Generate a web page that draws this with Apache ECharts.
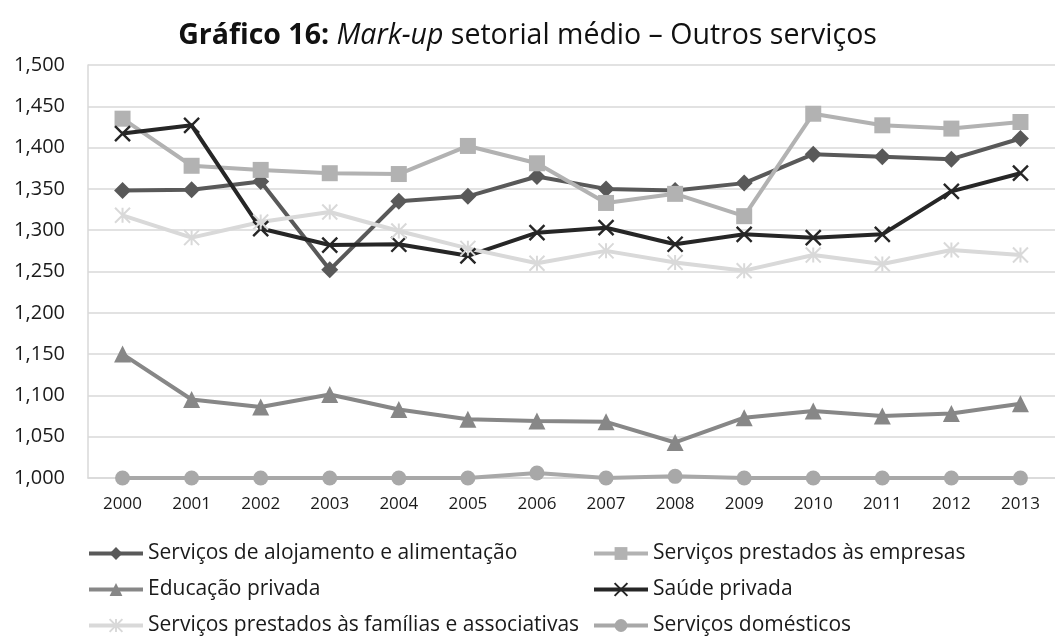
<!DOCTYPE html>
<html>
<head>
<meta charset="utf-8">
<script src="https://cdn.jsdelivr.net/npm/echarts@6/dist/echarts.min.js"></script>
<style>
  html, body { margin: 0; padding: 0; background: #fff; }
  #chart { width: 1055px; height: 639px; }
</style>
</head>
<body>
<div id="chart"></div>
<script>
// Years on the horizontal axis
var years = ['2000','2001','2002','2003','2004','2005','2006','2007','2008','2009','2010','2011','2012','2013'];

// Average sector mark-up, one array per service sector
var alojamento = [1.348, 1.349, 1.359, 1.252, 1.335, 1.341, 1.365, 1.350, 1.348, 1.357, 1.392, 1.389, 1.386, 1.411];
var empresas   = [1.435, 1.378, 1.373, 1.369, 1.368, 1.402, 1.381, 1.333, 1.344, 1.317, 1.441, 1.427, 1.423, 1.431];
var educacao   = [1.150, 1.095, 1.086, 1.101, 1.083, 1.071, 1.069, 1.068, 1.043, 1.073, 1.081, 1.075, 1.078, 1.090];
var saude      = [1.417, 1.427, 1.302, 1.282, 1.283, 1.269, 1.297, 1.303, 1.283, 1.295, 1.291, 1.295, 1.347, 1.369];
var familias   = [1.318, 1.291, 1.310, 1.322, 1.299, 1.278, 1.260, 1.275, 1.261, 1.251, 1.270, 1.259, 1.276, 1.270];
var domesticos = [1.000, 1.000, 1.000, 1.000, 1.000, 1.000, 1.006, 1.000, 1.002, 1.000, 1.000, 1.000, 1.000, 1.000];

// Series names
var names = [
  'Serviços de alojamento e alimentação',
  'Serviços prestados às empresas',
  'Educação privada',
  'Saúde privada',
  'Serviços prestados às famílias e associativas',
  'Serviços domésticos'
];

var FONT = '"Open Sans", "Noto Sans", sans-serif';
var CROSS = 'path://M0,0L10,10M10,0L0,10';
var STAR = 'path://M5,0L5,10M0,0L10,10M10,0L0,10';

function lineSeries(name, data, color, symbol, size, strokeWidth) {
  var s = {
    name: name,
    type: 'line',
    data: data,
    symbol: symbol,
    symbolSize: size,
    showAllSymbol: true,
    lineStyle: { color: color, width: 4 },
    itemStyle: { color: color },
    emphasis: { disabled: true },
    animation: false
  };
  if (strokeWidth) {
    // open markers drawn as strokes only
    s.itemStyle = { color: 'rgba(0,0,0,0)', borderColor: color, borderWidth: strokeWidth };
  }
  return s;
}

var chart = echarts.init(document.getElementById('chart'), null, { renderer: 'canvas' });

var legendText = { fontFamily: FONT, fontSize: 21, color: '#1a1a1a' };
var legendCommon = {
  orient: 'vertical',
  top: 543,
  padding: 0,
  itemWidth: 54,
  itemHeight: 16,
  itemGap: 15,
  selectedMode: false,
  textStyle: legendText,
  lineStyle: { width: 4 }
};

chart.setOption({
  backgroundColor: '#ffffff',
  title: {
    text: '{b|Gráfico 16:} {i|Mark-up} setorial médio – Outros serviços',
    left: 'center',
    top: 16,
    textStyle: {
      fontFamily: FONT,
      fontSize: 28.5,
      fontWeight: 'normal',
      color: '#111',
      rich: {
        b: { fontFamily: FONT, fontSize: 28.5, fontWeight: 'bold', color: '#111' },
        i: { fontFamily: FONT, fontSize: 28.5, fontStyle: 'italic', color: '#111' }
      }
    }
  },
  grid: { left: 88, top: 65, width: 970, height: 413, containLabel: false },
  xAxis: {
    type: 'category',
    data: years,
    boundaryGap: true,
    axisLine: { show: true, lineStyle: { color: '#d9d9d9', width: 1.5 } },
    axisTick: { show: false },
    axisLabel: { fontFamily: FONT, fontSize: 17, color: '#1a1a1a', margin: 18 }
  },
  yAxis: {
    type: 'value',
    min: 1.0,
    max: 1.5,
    interval: 0.05,
    axisLine: { show: true, lineStyle: { color: '#d9d9d9', width: 1.5 } },
    axisTick: { show: false },
    splitLine: { lineStyle: { color: '#d9d9d9', width: 1.5 } },
    axisLabel: {
      fontFamily: FONT, fontSize: 20, color: '#1a1a1a', margin: 23,
      formatter: function (v) { return v.toFixed(3).replace('.', ','); }
    }
  },
  legend: [
    Object.assign({ left: 87, data: [names[0], names[2], names[4]] }, legendCommon),
    Object.assign({ left: 592, data: [names[1], names[3], names[5]] }, legendCommon)
  ],
  series: [
    lineSeries(names[0], alojamento, '#595959', 'diamond', 17),
    lineSeries(names[1], empresas, '#b2b2b2', 'rect', 16),
    lineSeries(names[2], educacao, '#878787', 'triangle', 17),
    lineSeries(names[3], saude, '#262626', CROSS, 15, 2.4),
    lineSeries(names[4], familias, '#d9d9d9', STAR, 15, 2),
    lineSeries(names[5], domesticos, '#a8a8a8', 'circle', 15)
  ]
});
</script>
</body>
</html>
